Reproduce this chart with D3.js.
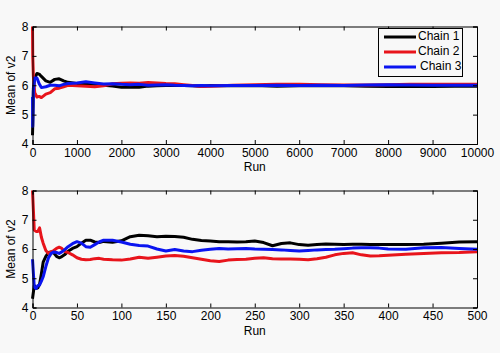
<!DOCTYPE html>
<html lang="en">
<head>
<meta charset="UTF-8">
<title>Mean of v2 by run</title>
<script src="https://d3js.org/d3.v7.min.js"></script>
<style>
  body { margin: 0; background: #f8f8f8; }
  svg { display: block; font-family: "Liberation Sans", Arial, sans-serif; }
  .axis text { font-size: 12px; fill: #000; }
</style>
</head>
<body>
<div id="chart"></div>
<script>
// ---- data ----
var seriesNames = ["Chain 1", "Chain 2", "Chain 3"];
var seriesColors = ["#000000", "#e8141b", "#0a14f0"];
var yTicks = [4, 5, 6, 7, 8];

// top panel: runs 0..10000
var runsLong = [0, 5, 20, 50, 100, 150, 200, 300, 400, 500, 600, 700, 800, 1000, 1200, 1400, 1600, 1800,
  2000, 2200, 2400, 2600, 2800, 3000, 3200, 3400, 3600, 3800, 4000, 4500, 5000, 5500, 6000, 6500,
  7000, 7500, 8000, 8500, 9000, 9500, 10000];
var chain1Long = [4.3, 4.6, 5.9, 6.25, 6.4, 6.38, 6.3, 6.15, 6.1, 6.2, 6.22, 6.15, 6.1, 6.06, 6.05, 6.03, 6.0, 5.97,
  5.93, 5.94, 5.93, 5.97, 5.98, 5.99, 6.0, 5.99, 5.98, 5.97, 5.99, 5.98, 5.99, 5.97, 5.98, 5.98,
  5.98, 5.97, 5.96, 5.97, 5.96, 5.97, 5.97];
var chain2Long = [8.0, 7.0, 6.3, 5.75, 5.6, 5.62, 5.58, 5.7, 5.75, 5.88, 5.9, 5.95, 6.0, 5.98, 5.97, 5.95, 5.98, 6.05,
  6.07, 6.08, 6.07, 6.09, 6.08, 6.06, 6.05, 6.02, 5.99, 5.96, 5.97, 6.0, 6.02, 6.03, 6.03, 6.02,
  6.01, 6.01, 6.02, 6.03, 6.03, 6.03, 6.03];
var chain3Long = [5.6, 4.6, 5.8, 6.25, 6.25, 6.05, 5.92, 5.95, 6.0, 6.0, 5.98, 6.03, 6.06, 6.08, 6.12, 6.08, 6.04, 6.05,
  6.03, 6.02, 6.03, 6.0, 6.01, 6.02, 6.0, 5.99, 5.98, 5.99, 5.98, 5.99, 5.99, 6.0, 5.99, 6.0,
  5.99, 6.01, 6.02, 6.01, 6.0, 6.0, 6.0];

// bottom panel: runs 0..500
var runsShort = [0, 2, 4, 6, 8, 10, 12, 15, 18, 21, 24, 27, 30, 33, 36, 40, 45, 50, 55, 60, 65, 70, 75, 80, 90, 100,
  110, 120, 130, 140, 150, 160, 170, 180, 190, 200, 210, 220, 230, 240, 250, 260, 270, 280, 290, 300,
  310, 320, 330, 340, 350, 360, 370, 380, 390, 400, 420, 440, 460, 480, 500];
var chain1Short = [4.3, 4.75, 4.65, 4.67, 4.8, 5.15, 5.55, 5.75, 5.88, 5.9, 5.86, 5.75, 5.7, 5.74, 5.8, 5.92, 6.02, 6.08, 6.2, 6.3, 6.3, 6.24, 6.22, 6.26, 6.23, 6.28,
  6.42, 6.47, 6.45, 6.42, 6.44, 6.43, 6.4, 6.33, 6.29, 6.27, 6.25, 6.25, 6.24, 6.25, 6.27, 6.22, 6.11, 6.19, 6.21, 6.15,
  6.13, 6.15, 6.17, 6.16, 6.15, 6.16, 6.16, 6.15, 6.15, 6.15, 6.15, 6.16, 6.2, 6.24, 6.25];
var chain2Short = [8.0, 6.65, 6.6, 6.6, 6.72, 6.4, 6.2, 5.95, 5.85, 5.9, 5.95, 6.02, 6.06, 6.02, 5.92, 5.88, 5.8, 5.7, 5.65, 5.63, 5.64, 5.67, 5.68, 5.65, 5.63, 5.62,
  5.66, 5.72, 5.68, 5.72, 5.76, 5.78, 5.75, 5.7, 5.65, 5.6, 5.57, 5.62, 5.64, 5.65, 5.68, 5.7, 5.67, 5.66, 5.66, 5.65,
  5.63, 5.67, 5.72, 5.8, 5.85, 5.87, 5.8, 5.76, 5.77, 5.79, 5.82, 5.85, 5.87, 5.88, 5.91];
var chain3Short = [5.65, 4.7, 4.65, 4.75, 4.77, 4.9, 5.05, 5.4, 5.7, 5.85, 5.9, 5.88, 5.85, 5.9, 5.97, 6.08, 6.18, 6.25, 6.2, 6.08, 6.06, 6.15, 6.24, 6.3, 6.3, 6.24,
  6.16, 6.12, 6.1, 6.0, 5.93, 5.98, 5.93, 5.91, 5.96, 5.99, 6.02, 6.0, 6.01, 6.02, 6.0, 5.99, 5.98, 5.97, 5.95, 5.93,
  5.95, 5.97, 5.98, 5.99, 6.01, 6.03, 6.04, 6.04, 6.03, 6.0, 5.99, 6.04, 6.05, 6.02, 5.99];

var xTicksLong = d3.range(0, 10001, 1000);
var xTicksShort = d3.range(0, 501, 50);

// ---- layout ----
var width = 500, height = 353;
var svg = d3.select("#chart").append("svg")
  .attr("width", width)
  .attr("height", height);

svg.append("rect").attr("width", width).attr("height", height).attr("fill", "#f8f8f8");

function drawPanel(top, bottom, runs, series, xMax, xTicks, legend) {
  var left = 32.5, right = 477;
  var x = d3.scaleLinear().domain([0, xMax]).range([left, right]);
  var y = d3.scaleLinear().domain([4, 8]).range([bottom, top]);
  var g = svg.append("g");

  var line = d3.line()
    .x(function (d, i) { return x(runs[i]); })
    .y(function (d) { return y(d); });

  series.forEach(function (vals, k) {
    g.append("path")
      .datum(vals)
      .attr("d", line)
      .attr("fill", "none")
      .attr("stroke", seriesColors[k])
      .attr("stroke-width", 3)
      .attr("stroke-linejoin", "round");
  });

  // box with inward ticks on every side, like matlab
  var xb = d3.axisBottom(x).tickValues(xTicks).tickSize(-4).tickPadding(4).tickFormat(d3.format("d"));
  var xt = d3.axisTop(x).tickValues(xTicks).tickSize(-4).tickFormat("");
  var yl = d3.axisLeft(y).tickValues(yTicks).tickSize(-4).tickPadding(4).tickFormat(d3.format("d"));
  var yr = d3.axisRight(y).tickValues(yTicks).tickSize(-4).tickFormat("");

  g.append("g").attr("class", "axis").attr("transform", "translate(0," + bottom + ")").call(xb);
  g.append("g").attr("class", "axis").attr("transform", "translate(0," + top + ")").call(xt);
  g.append("g").attr("class", "axis").attr("transform", "translate(" + left + ",0)").call(yl);
  g.append("g").attr("class", "axis").attr("transform", "translate(" + right + ",0)").call(yr);
  g.selectAll(".axis .domain").attr("stroke", "#000").attr("stroke-width", 1);
  g.selectAll(".axis .tick line").attr("stroke", "#000");

  g.append("text")
    .attr("x", (left + right) / 2)
    .attr("y", bottom + 27)
    .attr("text-anchor", "middle")
    .attr("font-size", 12)
    .text("Run");

  g.append("text")
    .attr("transform", "translate(12," + (top + bottom) / 2 + ") rotate(-90)")
    .attr("text-anchor", "middle")
    .attr("dominant-baseline", "middle")
    .attr("font-size", 12)
    .text("Mean of v2");

  if (legend) {
    var lg = g.append("g");
    lg.append("rect")
      .attr("x", 378.5).attr("y", 28.5)
      .attr("width", 84).attr("height", 48)
      .attr("fill", "#f8f8f8")
      .attr("stroke", "#000");
    seriesNames.forEach(function (name, k) {
      var ly = 37 + k * 15;
      lg.append("line")
        .attr("x1", 384).attr("x2", 416)
        .attr("y1", ly).attr("y2", ly)
        .attr("stroke", seriesColors[k])
        .attr("stroke-width", 3);
      lg.append("text")
        .attr("x", 418 + (k === 2 ? 2 : 0)).attr("y", ly)
        .attr("dominant-baseline", "middle")
        .attr("font-size", 12)
        .text(name);
    });
  }
}

drawPanel(26.5, 144, runsLong, [chain1Long, chain2Long, chain3Long], 10000, xTicksLong, true);
drawPanel(190.5, 307.5, runsShort, [chain1Short, chain2Short, chain3Short], 500, xTicksShort, false);
</script>
</body>
</html>
